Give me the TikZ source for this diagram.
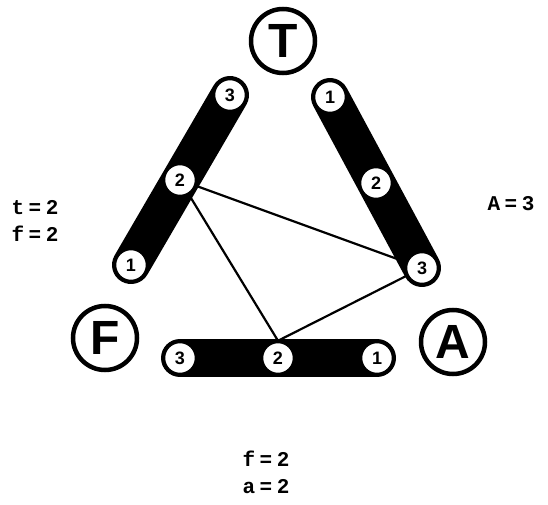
\documentclass[tikz,border=0pt]{standalone}
\usepackage{fontspec}
\setmainfont{Liberation Sans}
\newfontfamily\eqfont[LetterSpace=22]{Liberation Mono}
\usetikzlibrary{positioning,backgrounds}

\begin{document}
\begin{tikzpicture}[x=1pt,y=1pt,
  bigpin/.style={circle,draw,line width=4.5pt,minimum size=64pt,inner sep=0pt,
    font=\fontsize{48}{48}\selectfont\bfseries},
  slot/.style={circle,draw,fill=white,line width=2.5pt,minimum size=32pt,inner sep=0pt,
    font=\fontsize{18}{18}\selectfont\bfseries},
  bar/.style={line width=38pt,line cap=round},
  edge/.style={line width=2.2pt},
  eqn/.style={anchor=west,align=left,font=\fontsize{21}{27}\selectfont\eqfont\bfseries}]
  \useasboundingbox (0,0) rectangle (548,504);
  \node[bigpin] (T) at (283,463) {T};
  \node[bigpin] (F) at (105,166) {F};
  \node[bigpin] (A) at (453,162) {A};
  \foreach \s/\n/\x/\y in {l/3/230/409,l/2/180/324,l/1/131/239,
                           r/1/330/407,r/2/376/321,r/3/422/236,
                           b/3/180/146,b/2/278/146,b/1/377/146} {
    \node[slot] (\s\n) at (\x,\y) {\n};
  }
  \begin{pgfonlayer}{background}
    \draw[bar] (l3.center) -- (l1.center);
    \draw[bar] (r1.center) -- (r3.center);
    \draw[bar] (b3.center) -- (b1.center);
  \end{pgfonlayer}
  \draw[edge] (l2) -- (r3);
  \draw[edge] (l2) -- (b2.north);
  \draw[edge] (r3) -- (b2.north);
  \node[eqn] (left) at (8,283) {t=2\\f=2};
  \node[eqn] (right) at (484,300) {A=3};
  \node[eqn] (bottom) at (239,32) {f=2\\a=2};
\end{tikzpicture}
\end{document}
